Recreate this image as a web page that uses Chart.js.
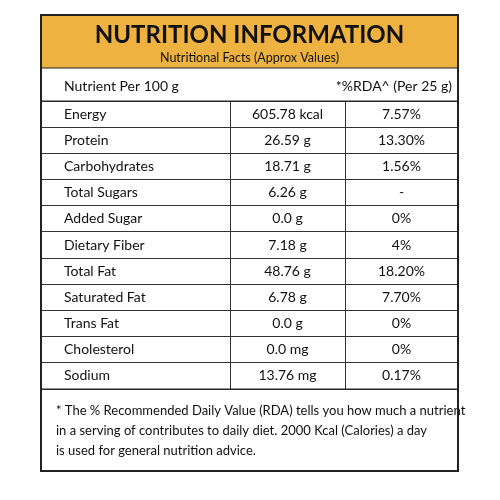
<!DOCTYPE html>
<html>
<head>
<meta charset="utf-8">
<script src="https://cdn.jsdelivr.net/npm/chart.js@4"></script>
<style>
  html, body { margin: 0; padding: 0; background: #fff; }
  #wrap { width: 500px; height: 500px; }
</style>
</head>
<body>
<div id="wrap"><canvas id="myChart"></canvas></div>
<script>
// table contents
const nutrients = ['Energy', 'Protein', 'Carbohydrates', 'Total Sugars', 'Added Sugar', 'Dietary Fiber', 'Total Fat', 'Saturated Fat', 'Trans Fat', 'Cholesterol', 'Sodium'];
const amounts = ['605.78 kcal', '26.59 g', '18.71 g', '6.26 g', '0.0 g', '7.18 g', '48.76 g', '6.78 g', '0.0 g', '0.0 mg', '13.76 mg'];
const rda = ['7.57%', '13.30%', '1.56%', '-', '0%', '4%', '18.20%', '7.70%', '0%', '0%', '0.17%'];
const title = 'NUTRITION INFORMATION';
const subtitle = 'Nutritional Facts (Approx Values)';
const headLeft = 'Nutrient Per 100 g';
const headRight = '*%RDA^ (Per 25 g)';
const footnote = [
    '* The % Recommended Daily Value (RDA) tells you how much a nutrient',
    'in a serving of contributes to daily diet. 2000 Kcal (Calories) a day',
    'is used for general nutrition advice.'
];
const colEdges = [0, 189, 304, 417];

const FONT = 'Lato, "Open Sans", sans-serif';

const tablePlugin = {
    id: 'tablePlugin',
    afterDraw(chart) {
        const ctx = chart.ctx;
        const x = chart.scales.x, y = chart.scales.y;
        const area = chart.chartArea;
        const left = area.left, right = area.right;
        const top = 15, bottom = 471;

        ctx.save();
        // yellow header band
        ctx.fillStyle = '#EDB240';
        ctx.fillRect(left, top, right - left, 53);
        ctx.fillStyle = '#111';
        ctx.textAlign = 'center';
        ctx.textBaseline = 'middle';
        ctx.font = 'bold 24px ' + FONT;
        ctx.fillText(title, (left + right) / 2, 35);
        ctx.font = '12.5px ' + FONT;
        ctx.fillText(subtitle, (left + right) / 2, 58);

        // column header row
        ctx.font = '14px ' + FONT;
        ctx.textAlign = 'left';
        ctx.fillText(headLeft, 64, 86);
        ctx.textAlign = 'right';
        ctx.fillText(headRight, 452, 86);

        // cells
        nutrients.forEach((n, i) => {
            const py = y.getPixelForValue(i);
            ctx.textAlign = 'left';
            ctx.fillText(n, 64, py);
            ctx.textAlign = 'center';
            ctx.fillText(amounts[i], (x.getPixelForValue(colEdges[1]) + x.getPixelForValue(colEdges[2])) / 2, py);
            ctx.fillText(rda[i], (x.getPixelForValue(colEdges[2]) + x.getPixelForValue(colEdges[3])) / 2, py);
        });

        // footnote
        ctx.textAlign = 'left';
        ctx.font = '13px ' + FONT;
        footnote.forEach((line, i) => ctx.fillText(line, 56, 411 + i * 20));

        // lines
        ctx.strokeStyle = '#222';
        ctx.lineWidth = 1.2;
        [68, area.top, area.bottom].forEach(ly => {
            ctx.beginPath(); ctx.moveTo(left, ly); ctx.lineTo(right, ly); ctx.stroke();
        });
        ctx.lineWidth = 2;
        ctx.strokeRect(left, top, right - left, bottom - top);
        ctx.restore();
    }
};

const config = {
    type: 'bar',
    data: {
        labels: nutrients,
        datasets: [{ data: [], backgroundColor: 'transparent' }]
    },
    options: {
        responsive: false,
        animation: false,
        indexAxis: 'y',
        layout: { padding: { left: 41, right: 42, top: 101, bottom: 111 } },
        plugins: { legend: { display: false }, tooltip: { enabled: false } },
        scales: {
            x: {
                type: 'linear', min: 0, max: 417,
                afterBuildTicks: (s) => { s.ticks = colEdges.map(v => ({ value: v })); },
                ticks: { display: false },
                grid: { color: '#333', lineWidth: 1, drawTicks: false },
                border: { display: false }
            },
            y: {
                type: 'category', offset: true,
                ticks: { display: false },
                grid: { color: '#333', lineWidth: 1, drawTicks: false, offset: true },
                border: { display: false }
            }
        }
    },
    plugins: [tablePlugin]
};

const canvas = document.getElementById('myChart');
canvas.width = 500;
canvas.height = 500;
new Chart(canvas, config);
</script>
</body>
</html>
